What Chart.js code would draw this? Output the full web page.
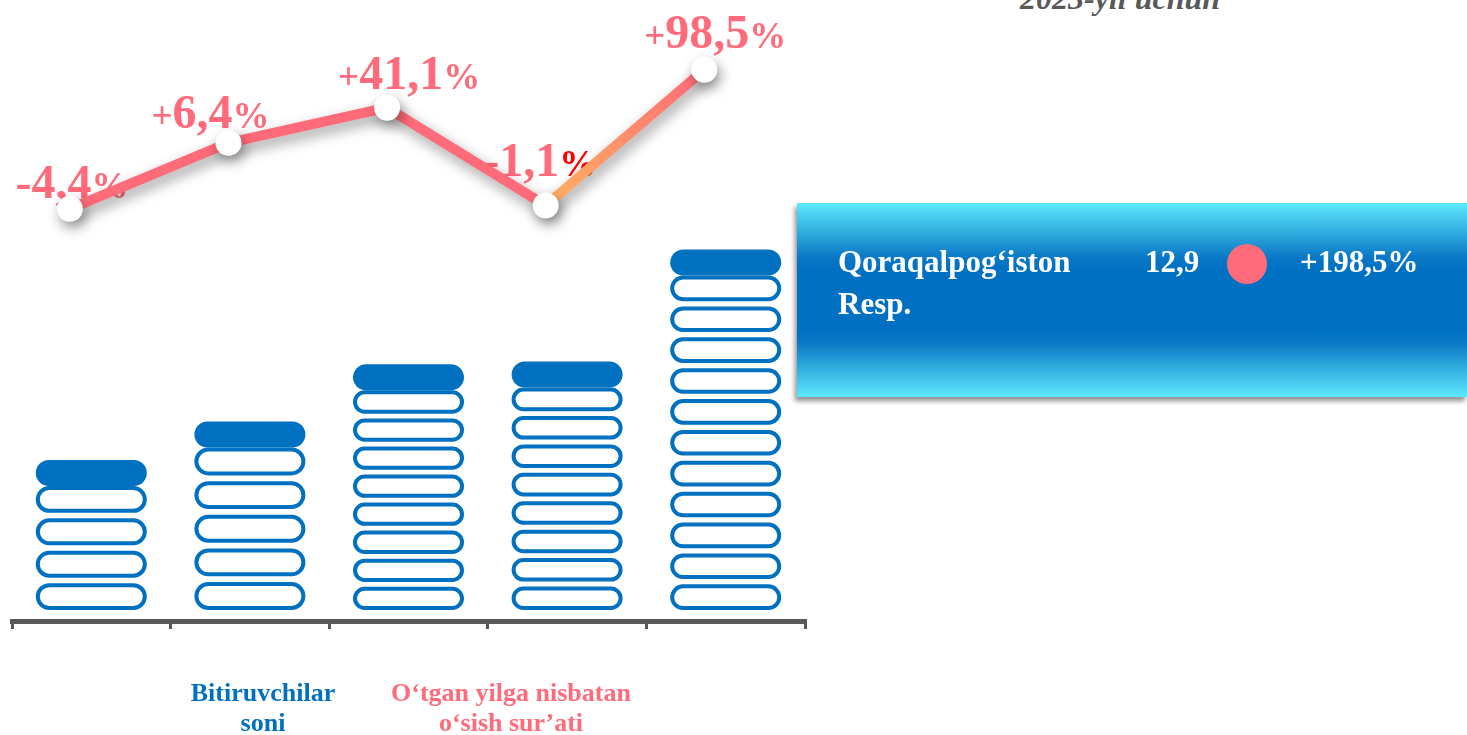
<!DOCTYPE html>
<html>
<head>
<meta charset="utf-8">
<script src="https://cdn.jsdelivr.net/npm/chart.js@4.4.1/dist/chart.umd.min.js"></script>
<style>
  html, body { margin: 0; padding: 0; background: #fff; }
  body { width: 1467px; height: 735px; position: relative; overflow: hidden; font-family: "Liberation Serif", "Times New Roman", serif; }
  #box { position: absolute; left: 0; top: 0; width: 820px; height: 735px; }
  .title { position: absolute; left: 1020px; top: -18px; font: italic bold 32px/32px "Liberation Serif", serif; color: #595959; white-space: nowrap; }
  .panel { position: absolute; left: 797px; top: 203px; width: 670px; height: 194px;
    background: linear-gradient(to bottom, #5de9fb 0%, #0a78c6 28%, #0070c2 34%, #0070c2 66%, #0a78c6 72%, #5de9fb 100%);
    box-shadow: -2px 4px 5px rgba(0,0,0,0.45); }
  .panel div { position: absolute; color: #fff; font: bold 31px/42px "Liberation Serif", serif; white-space: nowrap; }
  .dot { width: 40px; height: 40px; border-radius: 50%; background: #ff6b7a !important; }
  .leg { position: absolute; top: 678px; text-align: center; font: bold 26px/30px "Liberation Serif", serif; white-space: nowrap; }
</style>
</head>
<body>
<div class="title">2023-yil uchun</div>
<div id="box"><canvas id="grafik"></canvas></div>
<div class="panel">
  <div style="left:41px; top:38px;">Qoraqalpog‘iston<br>Resp.</div>
  <div style="left:348px; top:38px;">12,9</div>
  <div class="dot" style="left:430px; top:41px;"></div>
  <div style="left:503px; top:38px;">+198,5%</div>
</div>
<div class="leg" style="left:163px; width:200px; color:#0070c0;">Bitiruvchilar<br>soni</div>
<div class="leg" style="left:361px; width:300px; color:#ff6b7a;">O‘tgan yilga nisbatan<br>o‘sish sur’ati</div>

<script>
// Data
const years = ['2019', '2020', '2021', '2022', '2023'];
const graduates = [27.3, 34.3, 44.7, 45.2, 65.6];   // bar heights (relative units)
const pillCount = [4, 5, 8, 8, 11];                  // outlined pills under the filled cap
const growthLevel = [73.0, 85.0, 91.4, 73.6, 98.3];  // where the line point sits
const growthText = ['-4,4', '+6,4', '+41,1', '-1,1', '+98,5'];

const BLUE = '#0070c0';
const PINK = '#ff6b7a';
const pctColor = [PINK, PINK, PINK, '#ff0000', PINK];
const labelNudge = [[2, -11], [-18, -15], [22, -19], [-6, -30], [11, -22]];

function pill(ctx, x, y, w, h) {
  const r = h / 2;
  ctx.beginPath();
  ctx.moveTo(x + r, y);
  ctx.lineTo(x + w - r, y);
  ctx.arc(x + w - r, y + r, r, -Math.PI / 2, Math.PI / 2);
  ctx.lineTo(x + r, y + h);
  ctx.arc(x + r, y + r, r, Math.PI / 2, Math.PI * 1.5);
  ctx.closePath();
}

// stack of pills instead of a plain bar
const pillPlugin = {
  id: 'pills',
  afterDatasetDraw(chart, args) {
    if (args.index !== 0) return;
    const ctx = chart.ctx;
    args.meta.data.forEach((bar, i) => {
      const p = bar.getProps(['x', 'y', 'base', 'width'], true);
      const left = p.x - p.width / 2;
      const capH = 26;
      ctx.save();
      ctx.fillStyle = BLUE;
      pill(ctx, left, p.y, p.width, capH);
      ctx.fill();
      const n = pillCount[i];
      const pitch = (p.base - p.y - capH) / (n - 1 + 0.83);
      const h = pitch * 0.83;
      ctx.lineWidth = 4;
      ctx.strokeStyle = BLUE;
      for (let k = 0; k < n; k++) {
        const top = p.base - h - k * pitch;
        pill(ctx, left + 2, top + 2, p.width - 4, h - 4);
        ctx.stroke();
      }
      ctx.restore();
    });
  }
};

// percent labels (under the line) + shadow for the line
const linePlugin = {
  id: 'lineFx',
  beforeDatasetDraw(chart, args) {
    if (args.index !== 1) return;
    const ctx = chart.ctx;
    ctx.save();
    ctx.textBaseline = 'alphabetic';
    args.meta.data.forEach((pt, i) => {
      const t = growthText[i];
      const sign = t[0];
      const num = t.slice(1);
      const fSign = sign === '+' ? 'bold 37px "Liberation Serif"' : 'bold 48px "Liberation Serif"';
      const fNum = 'bold 48px "Liberation Serif"';
      const fPct = 'bold 37px "Liberation Serif"';
      ctx.font = fSign; const w1 = ctx.measureText(sign).width;
      ctx.font = fNum; const w2 = ctx.measureText(num).width;
      ctx.font = fPct; const w3 = ctx.measureText('%').width;
      let x = pt.x + labelNudge[i][0] - (w1 + w2 + w3) / 2;
      const y = pt.y + labelNudge[i][1];
      ctx.fillStyle = PINK;
      ctx.font = fSign; ctx.fillText(sign, x, y); x += w1;
      ctx.font = fNum; ctx.fillText(num, x, y); x += w2;
      ctx.fillStyle = pctColor[i];
      ctx.font = fPct; ctx.fillText('%', x, y);
    });
    ctx.restore();
    ctx.save();
    ctx.shadowColor = 'rgba(0,0,0,0.4)';
    ctx.shadowBlur = 14;
    ctx.shadowOffsetX = 3;
    ctx.shadowOffsetY = 6;
  },
  afterDatasetDraw(chart, args) {
    if (args.index !== 1) return;
    chart.ctx.restore();
  }
};

function lastSegment(c) {
  const g = document.getElementById('grafik').getContext('2d')
    .createLinearGradient(c.p0.x, c.p0.y, c.p1.x, c.p1.y);
  g.addColorStop(0, '#ffb362');
  g.addColorStop(0.2, '#ffa464');
  g.addColorStop(1, '#ff6b78');
  return g;
}

new Chart(document.getElementById('grafik'), {
  type: 'bar',
  data: {
    labels: years,
    datasets: [
      {
        label: 'Bitiruvchilar soni',
        data: graduates,
        backgroundColor: 'rgba(0,0,0,0)',
        borderWidth: 0,
        grouped: false,
        categoryPercentage: 1,
        barPercentage: 0.7,
        order: 2
      },
      {
        type: 'line',
        label: 'O‘tgan yilga nisbatan o‘sish sur’ati',
        data: growthLevel.map((v, i) => ({ x: i, y: v })),
        xAxisID: 'x2',
        borderColor: '#ff6b78',
        borderWidth: 10,
        borderCapStyle: 'round',
        borderJoinStyle: 'round',
        tension: 0,
        pointRadius: 13,
        pointHoverRadius: 13,
        pointBackgroundColor: '#fff',
        pointBorderWidth: 0,
        segment: {
          borderColor: c => c.p0DataIndex === 3 ? lastSegment(c) : undefined
        },
        order: 1
      }
    ]
  },
  options: {
    responsive: true,
    maintainAspectRatio: false,
    animation: false,
    layout: { autoPadding: false, padding: { left: 12, right: 15, top: 0, bottom: 106 } },
    plugins: {
      legend: { display: false },
      tooltip: { enabled: false }
    },
    scales: {
      x: {
        grid: { offset: true, drawOnChartArea: false, drawTicks: true, tickLength: 8, color: '#595959', lineWidth: 3 },
        border: { display: true, color: '#595959', width: 5 },
        ticks: { display: false }
      },
      x2: { type: 'linear', display: false, offset: false, grid: { offset: false }, min: -0.365, max: 4.635 },
      y: { display: false, min: -2, max: 111 }
    }
  },
  plugins: [pillPlugin, linePlugin]
});
</script>
</body>
</html>
